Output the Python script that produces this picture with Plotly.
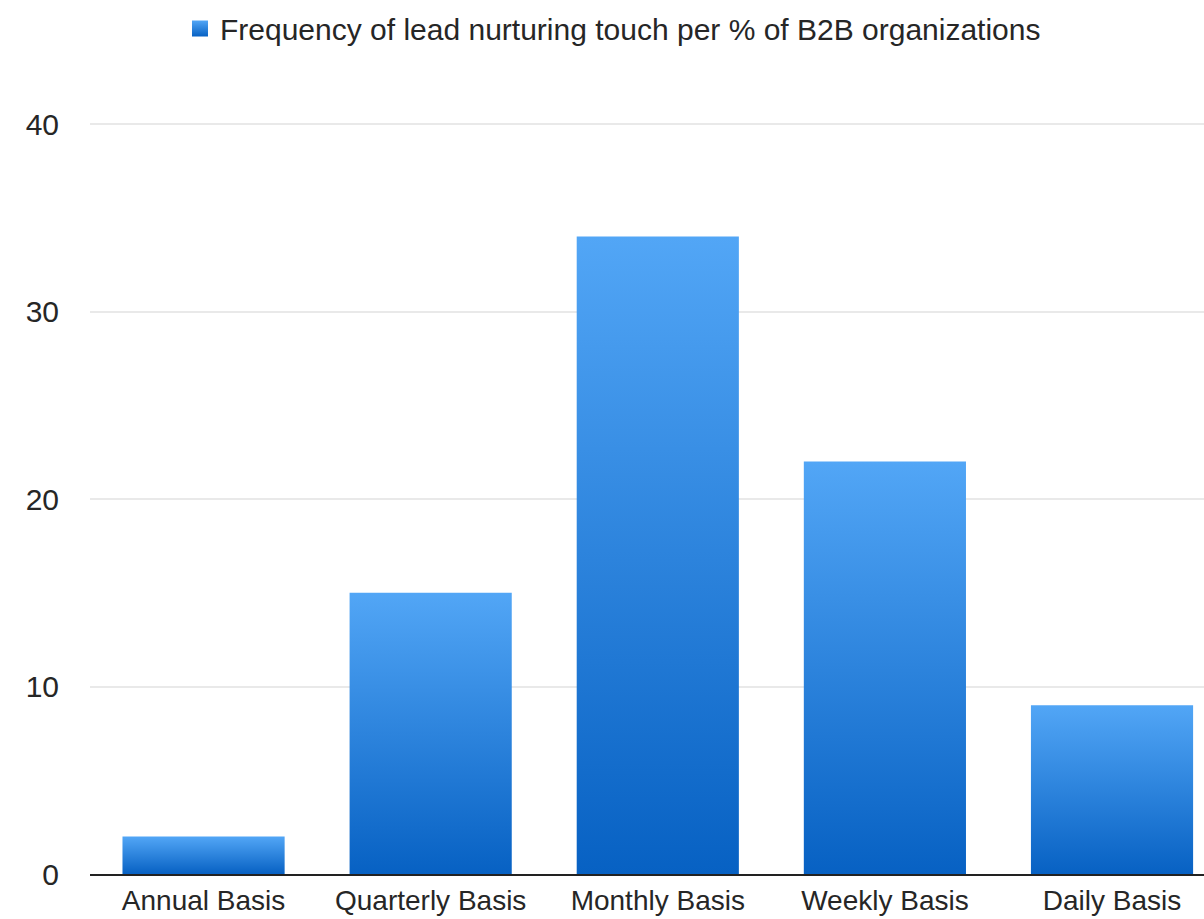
import plotly.graph_objects as go

# Survey results: how often B2B organizations send lead nurturing touches
categories = ["Annual Basis", "Quarterly Basis", "Monthly Basis", "Weekly Basis", "Daily Basis"]
values = [2, 15, 34, 22, 9]
series_name = "Frequency of lead nurturing touch per % of B2B organizations"
y_ticks = [0, 10, 20, 30, 40]

BAR_WIDTH = 0.714
TOP_COLOR = "#52a6f6"
BOTTOM_COLOR = "#0761c3"
TEXT_COLOR = "#262626"
FONT = "Liberation Sans, Arial, sans-serif"
FONT_SIZE = 30

fig = go.Figure()

# Each bar is a filled area from the baseline to its value, shaded top-to-bottom
for i, v in enumerate(values):
    half = BAR_WIDTH / 2
    fig.add_trace(go.Scatter(
        x=[i - half, i + half],
        y=[v, v],
        mode="none",
        fill="tozeroy",
        fillgradient=dict(type="vertical",
                          colorscale=[[0, BOTTOM_COLOR], [1, TOP_COLOR]]),
        showlegend=False,
        hovertemplate=f"{categories[i]}: {v}<extra></extra>",
    ))

# Legend swatch for the series
fig.add_trace(go.Scatter(
    x=[None], y=[None],
    mode="markers",
    name=series_name,
    marker=dict(symbol="square", size=16, color=TOP_COLOR,
                gradient=dict(type="vertical", color=BOTTOM_COLOR)),
    showlegend=True,
))

fig.update_layout(
    width=1204,
    height=919,
    margin=dict(l=90, r=0, t=123, b=45),
    paper_bgcolor="white",
    plot_bgcolor="white",
    font=dict(family=FONT, size=FONT_SIZE, color=TEXT_COLOR),
    legend=dict(
        orientation="h",
        xref="container", yref="container",
        x=0.1495, xanchor="left",
        y=0.969, yanchor="middle",
        font=dict(size=FONT_SIZE, color=TEXT_COLOR),
        itemwidth=30,
    ),
    xaxis=dict(
        range=[-0.5, 4.405],
        tickmode="array",
        tickvals=list(range(len(categories))),
        ticktext=categories,
        showgrid=False,
        zeroline=False,
        showline=True,
        linecolor="#222222",
        linewidth=2,
        ticks="",
        tickfont=dict(size=28, color=TEXT_COLOR),
        automargin=False,
        fixedrange=True,
    ),
    yaxis=dict(
        range=[0, 40.06],
        tickmode="array",
        tickvals=y_ticks,
        showgrid=True,
        gridcolor="#e9e9e9",
        gridwidth=1.5,
        zeroline=False,
        showline=False,
        ticks="outside",
        ticklen=24,
        tickcolor="rgba(0,0,0,0)",
        tickfont=dict(size=FONT_SIZE, color=TEXT_COLOR),
        automargin=False,
        fixedrange=True,
    ),
)

fig.write_html("out.html")
